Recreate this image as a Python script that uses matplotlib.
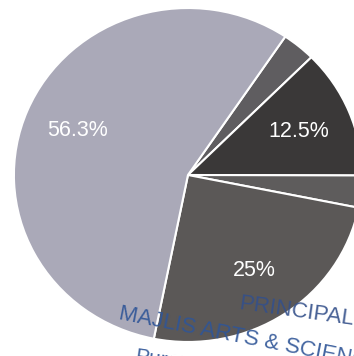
import matplotlib
matplotlib.use("Agg")
import matplotlib.pyplot as plt

# slices, clockwise from the top-right boundary
shares = [3.1, 12.5, 3.1, 25, 56.3]
labels = ["", "12.5%", "", "25%", "56.3%"]
colors = ["#5f5d60", "#3a3838", "#5e5c5c", "#5b5857", "#aaa9b8"]

fig = plt.figure(figsize=(3.54, 3.56), dpi=100)
ax = fig.add_axes([0, 0, 1, 1])

wedges, texts, autotexts = ax.pie(
    shares, colors=colors, startangle=56, counterclock=False,
    autopct=lambda p: "", pctdistance=0.69,
    wedgeprops=dict(edgecolor="white", linewidth=1.5),
)
for t, lab in zip(autotexts, labels):
    t.set_text(lab)
    t.set_color("white")
    t.set_fontsize(15.5)
    t.set_family(["Liberation Sans", "DejaVu Sans"])

# picture is cropped and a bit wider than tall
ax.set_aspect("auto")
ax.set_xlim(-1.080, 0.954)
ax.set_ylim(-1.084, 1.048)
ax.axis("off")

# stamp over the lower right
stamp = "#2f5597"
fam = ["Liberation Sans", "DejaVu Sans"]
kw = dict(ha="left", va="baseline", rotation_mode="anchor", family=fam, alpha=0.9)
fig.text(0.672, 0.133, "PRINCIPAL", color="#34508a", fontsize=16, rotation=-8, **kw)
fig.text(0.333, 0.105, "MAJLIS ARTS & SCIENCE", color=stamp, fontsize=16, rotation=-11, **kw)
fig.text(0.38, -0.018, "Puramannur", color=stamp, fontsize=15, rotation=-8, **kw)

fig.savefig("out.png", dpi=100, facecolor="white")
plt.close(fig)
